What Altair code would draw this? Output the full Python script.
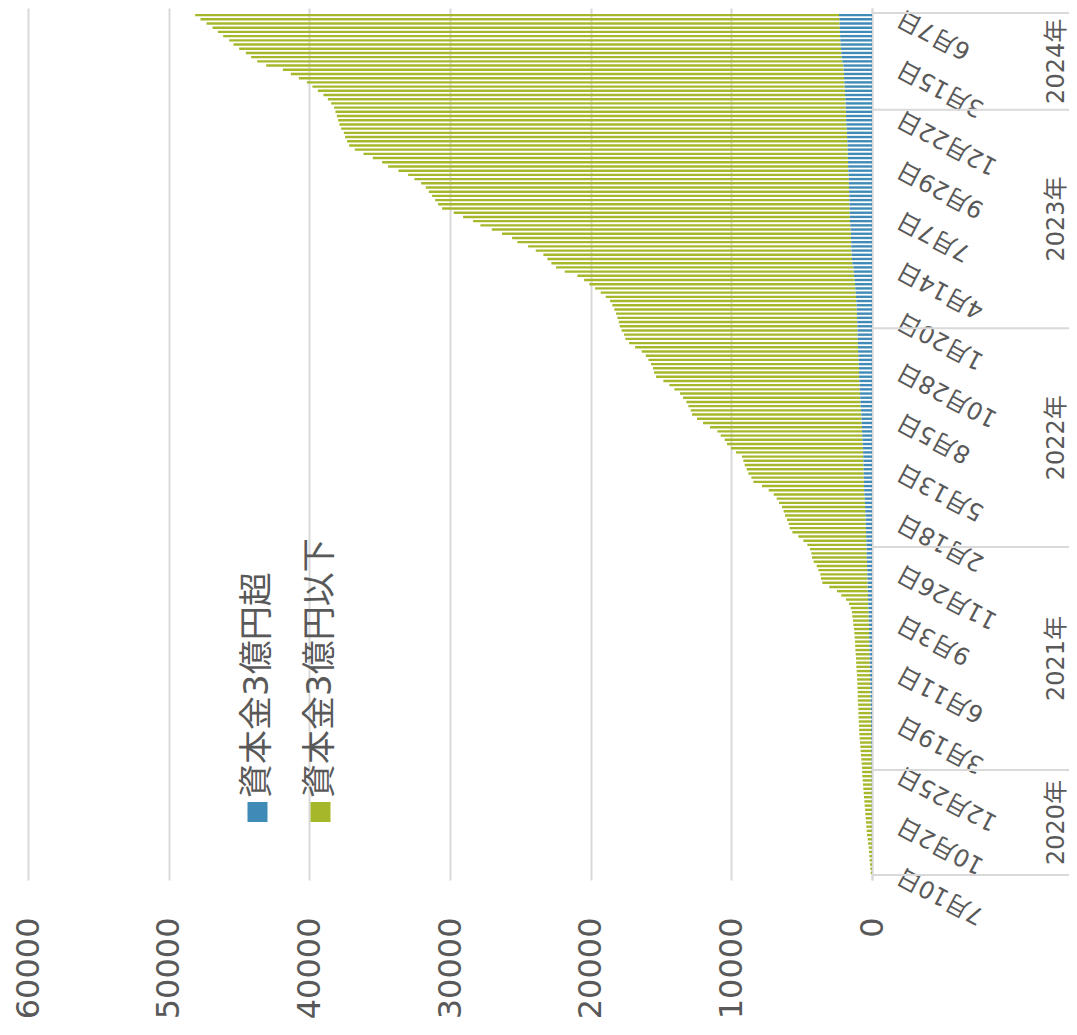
import json
import altair as alt
import pandas as pd

# ---------------- data ----------------
start_date = "2020-07-10"
n_weeks = 205
tick_step = 12

# stacked total (資本金3億円超 + 資本金3億円以下), one value per week
total_vals = [
    92, 115, 140, 168, 188, 215, 240, 282, 306, 352,
    378, 401, 428, 449, 476, 495, 522, 543, 570, 590,
    618, 641, 662, 688, 700, 712, 734, 760, 781, 808,
    828, 852, 877, 899, 918, 925, 947, 958, 966, 972,
    994, 1009, 1016, 1020, 1039, 1044, 1059, 1067, 1089, 1113,
    1128, 1138, 1160, 1184, 1196, 1207, 1231, 1257, 1280, 1326,
    1350, 1398, 1421, 1516, 1635, 1848, 2180, 2487, 3035, 3530,
    3625, 3672, 3814, 3932, 4145, 4264, 4311, 4406, 4596, 4880,
    5235, 5662, 5851, 5923, 6041, 6183, 6278, 6396, 6610, 6775,
    6989, 7344, 7818, 8434, 8576, 8789, 8907, 9050, 9144, 9239,
    9666, 10021, 10305, 10471, 10755, 10992, 11513, 12011, 12437, 12793,
    12887, 13053, 13195, 13432, 13645, 14048, 14404, 14830, 15351, 15493,
    15564, 15706, 15896, 16085, 16370, 16844, 17270, 17531, 17625, 17800,
    17931, 18002, 18101, 18194, 18315, 18457, 18620, 18926, 19281, 19686,
    20091, 20468, 20944, 21840, 22458, 22792, 23076, 23361, 23901, 24448,
    25209, 25585, 26296, 27028, 27838, 28357, 29068, 29729, 30560, 30844,
    31058, 31271, 31505, 31719, 32053, 32529, 32976, 33665, 34398, 34824,
    35485, 36153, 36764, 37170, 37312, 37454, 37547, 37738, 37859, 37951,
    38044, 38143, 38236, 38449, 38683, 38996, 39394, 39778, 40176, 40745,
    41313, 41882, 43068, 43708, 44134, 44511, 44987, 45392, 45698, 46124,
    46502, 46885, 47311, 47738, 48114,
]

# 資本金3億円超 (blue, next to the axis)
blue_vals = [
    4, 5, 5, 6, 6, 7, 8, 8, 9, 10,
    10, 11, 12, 12, 13, 14, 14, 15, 16, 17,
    18, 19, 20, 22, 24, 27, 30, 35, 40, 44,
    47, 50, 55, 62, 68, 71, 75, 85, 90, 95,
    100, 110, 115, 118, 122, 132, 137, 142, 147, 158,
    163, 168, 180, 185, 190, 195, 205, 210, 213, 218,
    230, 235, 240, 255, 262, 278, 286, 300, 308, 314,
    325, 332, 338, 350, 357, 372, 379, 385, 398, 405,
    420, 426, 432, 444, 450, 456, 474, 492, 500, 521,
    545, 562, 569, 575, 586, 592, 598, 610, 616, 622,
    635, 642, 663, 682, 690, 706, 714, 730, 738, 758,
    782, 805, 825, 833, 853, 872, 880, 900, 918, 924,
    930, 944, 952, 971, 990, 998, 1012, 1019, 1026, 1036,
    1042, 1048, 1062, 1070, 1085, 1093, 1113, 1137, 1161, 1185,
    1208, 1232, 1279, 1303, 1327, 1398, 1421, 1445, 1463, 1472,
    1486, 1492, 1498, 1516, 1540, 1564, 1580, 1587, 1594, 1604,
    1611, 1618, 1630, 1638, 1650, 1658, 1665, 1682, 1698, 1706,
    1712, 1722, 1729, 1736, 1753, 1772, 1780, 1800, 1824, 1840,
    1848, 1855, 1866, 1876, 1895, 1914, 1922, 1943, 1966, 1985,
    1993, 2014, 2037, 2108, 2156, 2179, 2203, 2227, 2251, 2268,
    2278, 2292, 2302, 2322, 2345,
]

tick_labels = [
    "7月10日", "10月2日", "12月25日", "3月19日", "6月11日", "9月3日",
    "11月26日", "2月18日", "5月13日", "8月5日", "10月28日", "1月20日",
    "4月14日", "7月7日", "9月29日", "12月22日", "3月15日", "6月7日",
]
value_ticks = [0, 10000, 20000, 30000, 40000, 50000, 60000]
series_names = ["資本金3億円超", "資本金3億円以下"]

# ---------------- styling ----------------
BLUE = "#3F8AB6"
GREEN = "#A6B82A"
TEXT = "#595959"
GRID = "#D9D9D9"
FONT = "DejaVu Sans, Noto Sans CJK JP"
W, H = 844, 872
PAD = {"left": 20, "top": 0, "right": 197, "bottom": 147}

# ---------------- tables ----------------
dates = pd.date_range(start_date, periods=n_weeks, freq="7D")
df = pd.DataFrame({
    "idx": list(range(n_weeks)),
    "blue": blue_vals,
    "total": total_vals,
    "year": dates.year,
})
g = df.groupby("year")["idx"].agg(["min", "max"]).reset_index()
year_df = pd.DataFrame({
    "label": [f"{y}年" for y in g["year"]],
    "mid": (g["min"] + g["max"]) / 2,
})
sep_df = pd.DataFrame({"b": list(g["min"] - 0.5) + [g["max"].iloc[-1] + 0.5]})

tick_idx = list(range(0, n_weeks, tick_step))
label_expr = f"{json.dumps(tick_labels, ensure_ascii=False)}[round(datum.value/{tick_step})]"

yscale = alt.Scale(domain=[-0.5, n_weeks - 0.5], nice=False, zero=False)
xscale = alt.Scale(domain=[0, 60000], reverse=True, nice=False)

x_axis = alt.Axis(
    values=value_ticks, format="d", labelAngle=270, labelAlign="right",
    labelBaseline="middle", labelPadding=37, ticks=False, tickSize=0,
    domain=False, grid=True, gridColor=GRID, gridWidth=2,
    labelFont=FONT, labelFontSize=32, labelColor=TEXT,
    labelFlush=False, labelOverlap=False, title=None,
)
y_axis = alt.Axis(
    orient="right", values=tick_idx, labelExpr=label_expr, labelAngle=208,
    labelAlign="right", labelBaseline="middle", labelPadding=27,
    ticks=False, tickSize=0, domain=True, domainColor=GRID, domainWidth=2,
    grid=False, labelFont=FONT, labelFontSize=24, labelColor=TEXT,
    labelOverlap=False, labelFlush=False, title=None,
)

green_bar = alt.Chart(df).mark_bar(orient="horizontal", size=2.4, color=GREEN).encode(
    x=alt.X("blue:Q", scale=xscale, axis=x_axis, stack=None),
    x2="total:Q",
    y=alt.Y("idx:Q", scale=yscale, axis=y_axis),
)
blue_bar = alt.Chart(df).mark_bar(orient="horizontal", size=2.4, color=BLUE).encode(
    x=alt.X("blue:Q", scale=xscale, axis=x_axis, stack=None),
    y=alt.Y("idx:Q", scale=yscale, axis=y_axis),
)
seps = alt.Chart(sep_df).mark_rule(color=GRID, strokeWidth=2).encode(
    y=alt.Y("b:Q", scale=yscale, axis=y_axis),
    x=alt.value(W),
    x2=alt.value(W + PAD["right"]),
)
years = alt.Chart(year_df).mark_text(
    angle=270, align="center", baseline="middle", font=FONT, fontSize=24, color=TEXT
).encode(
    y=alt.Y("mid:Q", scale=yscale, axis=y_axis),
    x=alt.value(1029),
    text="label:N",
)

legend_layers = []
for name, col, lx in [(series_names[0], BLUE, 229.5), (series_names[1], GREEN, 292.5)]:
    ldf = pd.DataFrame({"label": [name]})
    legend_layers.append(
        alt.Chart(ldf).mark_square(size=400, color=col, opacity=1, filled=True).encode(
            x=alt.value(lx), y=alt.value(804)
        )
    )
    legend_layers.append(
        alt.Chart(ldf).mark_text(
            angle=270, align="left", baseline="middle", font=FONT, fontSize=34, color=TEXT
        ).encode(x=alt.value(lx), y=alt.value(790), text="label:N")
    )

chart = alt.layer(green_bar, blue_bar, seps, years, *legend_layers).properties(
    width=W,
    height=H,
    autosize=alt.AutoSizeParams(type="none"),
    padding=PAD,
    background="white",
).configure_view(stroke=None)

chart.save("out.html", embed_options={"renderer": "svg", "actions": False})
